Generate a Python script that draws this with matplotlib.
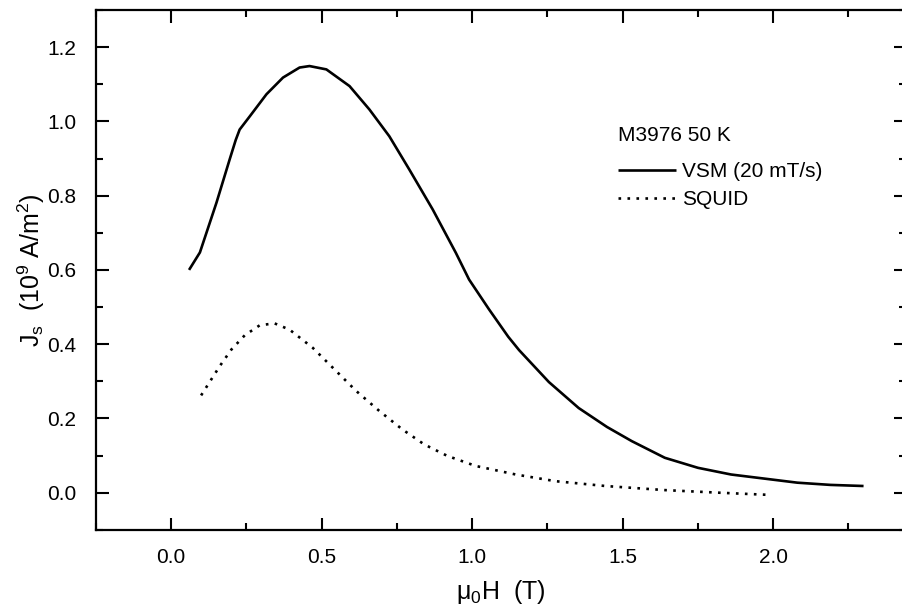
import matplotlib
matplotlib.use("Agg")
import matplotlib.pyplot as plt
from matplotlib.ticker import MultipleLocator

plt.rcParams['font.family'] = ['Liberation Sans', 'DejaVu Sans']
plt.rcParams['mathtext.default'] = 'regular'

vsm_x = [0.06, 0.096, 0.151, 0.195, 0.215, 0.228, 0.262, 0.317, 0.372, 0.427, 0.46, 0.516,
         0.593, 0.659, 0.725, 0.791, 0.869, 0.946, 0.99, 1.056, 1.12, 1.156, 1.255,
         1.354, 1.448, 1.53, 1.64, 1.75, 1.86, 1.97, 2.08, 2.19, 2.30]
vsm_y = [0.60, 0.647, 0.781, 0.898, 0.950, 0.978, 1.014, 1.073, 1.118, 1.145, 1.149, 1.140,
         1.095, 1.032, 0.960, 0.871, 0.763, 0.646, 0.574, 0.494, 0.420, 0.384, 0.298,
         0.228, 0.177, 0.139, 0.094, 0.067, 0.049, 0.038, 0.027, 0.021, 0.018]

squid_x = [0.10, 0.162, 0.201, 0.245, 0.295, 0.344, 0.394, 0.471, 0.543, 0.615, 0.692,
           0.769, 0.841, 0.918, 1.012, 1.145, 1.277, 1.443, 1.64, 1.82, 1.99]
squid_y = [0.262, 0.341, 0.386, 0.424, 0.451, 0.456, 0.439, 0.390, 0.332, 0.274, 0.220,
           0.170, 0.130, 0.099, 0.072, 0.049, 0.031, 0.018, 0.007, 0.0, -0.006]

legend_title = "M3976 50 K"
label_vsm = "VSM (20 mT/s)"
label_squid = "SQUID"

fig = plt.figure(figsize=(9.03, 6.09), dpi=100)
ax = fig.add_axes([0.106, 0.13, 0.897, 0.8536])

ax.plot(vsm_x, vsm_y, color='black', lw=1.9, label=label_vsm,
        solid_joinstyle='round', solid_capstyle='butt')
ax.plot(squid_x, squid_y, color='black', lw=1.9, linestyle=(0, (1, 2.4)), label=label_squid)

ax.set_xlim(-0.25, 2.44)
ax.set_ylim(-0.1, 1.3)
ax.xaxis.set_major_locator(MultipleLocator(0.5))
ax.xaxis.set_minor_locator(MultipleLocator(0.25))
ax.yaxis.set_major_locator(MultipleLocator(0.2))
ax.yaxis.set_minor_locator(MultipleLocator(0.1))
ax.xaxis.set_major_formatter(plt.FuncFormatter(lambda v, p: f"{v:.1f}"))
ax.yaxis.set_major_formatter(plt.FuncFormatter(lambda v, p: f"{v:.1f}"))

ax.tick_params(which='both', direction='in', top=True, right=True, width=1.5, labelsize=15)
ax.tick_params(which='major', length=9)
ax.tick_params(which='minor', length=5)
ax.tick_params(axis='x', which='major', pad=13)
ax.tick_params(axis='y', which='major', pad=14)
for s in ax.spines.values():
    s.set_linewidth(1.6)

ax.set_xlabel("μ$_0$H  (T)", fontsize=18, labelpad=8)
ax.set_ylabel("J$_s$  (10$^9$ A/m$^2$)", fontsize=18, labelpad=0)

leg = ax.legend(title=legend_title, loc='upper left', bbox_to_anchor=(0.634, 0.792),
                frameon=False, fontsize=15, title_fontsize=15, handlelength=2.8,
                handletextpad=0.3, labelspacing=0.45, borderaxespad=0)
leg._legend_box.align = 'left'
leg._legend_box.sep = 12

fig.savefig("out.png", dpi=100)
